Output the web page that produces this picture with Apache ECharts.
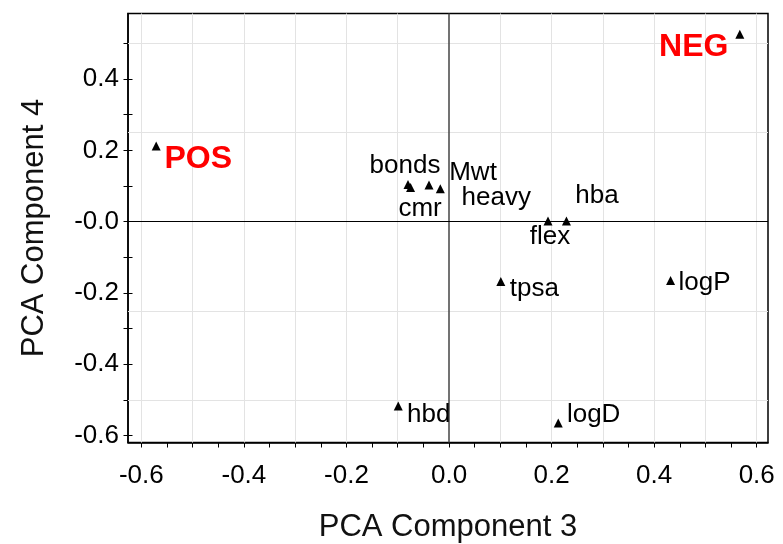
<!DOCTYPE html>
<html>
<head>
<meta charset="utf-8">
<script src="https://cdn.jsdelivr.net/npm/echarts@6/dist/echarts.min.js"></script>
<style>
html,body{margin:0;padding:0;background:#fff;}
#chart{width:783px;height:544px;}
</style>
</head>
<body>
<div id="chart"></div>
<script>
// ---- data ----
var names = ['NEG','POS','bonds','cmr','Mwt','heavy','flex','hba','tpsa','logP','hbd','logD'];
var comp3 = [0.567,-0.571,-0.080,-0.075,-0.039,-0.017,0.193,0.229,0.101,0.432,-0.099,0.213];
var comp4 = [0.526,0.212,0.104,0.096,0.103,0.092,0.002,0.002,-0.168,-0.165,-0.517,-0.565];
var xLabelTicks = [-0.6,-0.4,-0.2,0,0.2,0.4,0.6];
var xMinorTicks = [-0.6,-0.55,-0.5,-0.45,-0.4,-0.35,-0.3,-0.25,-0.2,-0.15,-0.1,-0.05,0,0.05,0.1,0.15,0.2,0.25,0.3,0.35,0.4,0.45,0.5,0.55,0.6];
var xGrid = [-0.6,-0.5,-0.4,-0.3,-0.2,-0.1,0.1,0.2,0.3,0.4,0.5,0.6];
var yLabelTicks = [-0.6,-0.4,-0.2,0,0.2,0.4];
var yMinorTicks = [-0.6,-0.5,-0.4,-0.3,-0.2,-0.1,0,0.1,0.2,0.3,0.4,0.5];
var yGrid = [-0.5,-0.25,0.25,0.5];

// label placement (style only)
var labelOffset = {
  NEG:[-46,13], POS:[42,13.5], bonds:[-3,-19], cmr:[9.5,21.5], Mwt:[44,-12.5], heavy:[56,9.3],
  flex:[2,16], hba:[30.5,-25], tpsa:[33.5,7.3], logP:[34,2.3], hbd:[30.5,8.6], logD:[35.4,-8.7]
};
var FONT = '"Liberation Sans", Arial, sans-serif';

var points = names.map(function(n,i){
  var big = (n==='NEG'||n==='POS');
  return {
    name:n, value:[comp3[i], comp4[i]],
    label:{
      show:true, formatter:n, position:'inside', offset:labelOffset[n],
      align:'center', verticalAlign:'middle', opacity:1,
      fontFamily:FONT, fontSize: big?32:26, fontWeight: big?'bold':'normal',
      color: big?'#ff0000':'#000'
    }
  };
});

var gridLineStyle = {color:'#e3e3e3', width:1, type:'solid', opacity:1};
var mlData = [];
xGrid.forEach(function(v){ mlData.push({xAxis:v, lineStyle:gridLineStyle}); });
yGrid.forEach(function(v){ mlData.push({yAxis:v, lineStyle:gridLineStyle}); });
mlData.push({xAxis:0, lineStyle:{color:'#444', width:1.5, type:'solid', opacity:1}});
mlData.push({yAxis:0, lineStyle:{color:'#000', width:1, type:'solid', opacity:1}});

var chart = echarts.init(document.getElementById('chart'), null, {renderer:'canvas'});
chart.setOption({
  animation:false,
  backgroundColor:'#fff',
  grid:{left:128, top:13.5, right:15, bottom:101.5, show:true, borderColor:'#000', borderWidth:1.5,
    backgroundColor:'transparent', containLabel:false, outerBoundsMode:'none'},
  xAxis:{
    type:'value', min:-0.626, max:0.622,
    name:'PCA Component 3', nameLocation:'middle', nameGap:69,
    nameTextStyle:{fontFamily:FONT, fontSize:31, color:'#111'},
    axisLine:{show:true, onZero:false, lineStyle:{color:'#000', width:1.5}},
    axisTick:{show:true, inside:false, length:5, customValues:xMinorTicks, lineStyle:{color:'#000', width:1}},
    axisLabel:{show:true, customValues:xLabelTicks, margin:20, fontFamily:FONT, fontSize:26, color:'#000',
      formatter:function(v){ return v.toFixed(1); }},
    splitLine:{show:false}
  },
  yAxis:[{
    type:'value', min:-0.6196, max:0.584,
    name:'PCA Component 4', nameLocation:'middle', nameGap:78,
    nameTextStyle:{fontFamily:FONT, fontSize:31, color:'#111'},
    axisLine:{show:true, onZero:false, lineStyle:{color:'#000', width:1.5}},
    axisTick:{show:true, inside:false, length:4.5, customValues:yMinorTicks, lineStyle:{color:'#000', width:1}},
    axisLabel:{show:true, customValues:yLabelTicks, margin:9, fontFamily:FONT, fontSize:26, color:'#000',
      formatter:function(v){ return (Math.abs(v)<1e-9) ? '-0.0' : v.toFixed(1); }},
    splitLine:{show:false}
  },{
    type:'value', min:-0.6196, max:0.584, position:'left',
    axisLine:{show:false, onZero:false},
    axisTick:{show:true, inside:true, length:4.5, customValues:yMinorTicks, lineStyle:{color:'#000', width:1}},
    axisLabel:{show:false},
    splitLine:{show:false}
  }],
  series:[{
    type:'scatter',
    xAxisIndex:0, yAxisIndex:0,
    symbol:'triangle', symbolSize:9,
    itemStyle:{color:'#000', opacity:1},
    emphasis:{disabled:true},
    data:points,
    markLine:{
      silent:true, symbol:['none','none'], label:{show:false},
      animation:false,
      data:mlData
    },
    z:5
  }]
});
</script>
</body>
</html>
